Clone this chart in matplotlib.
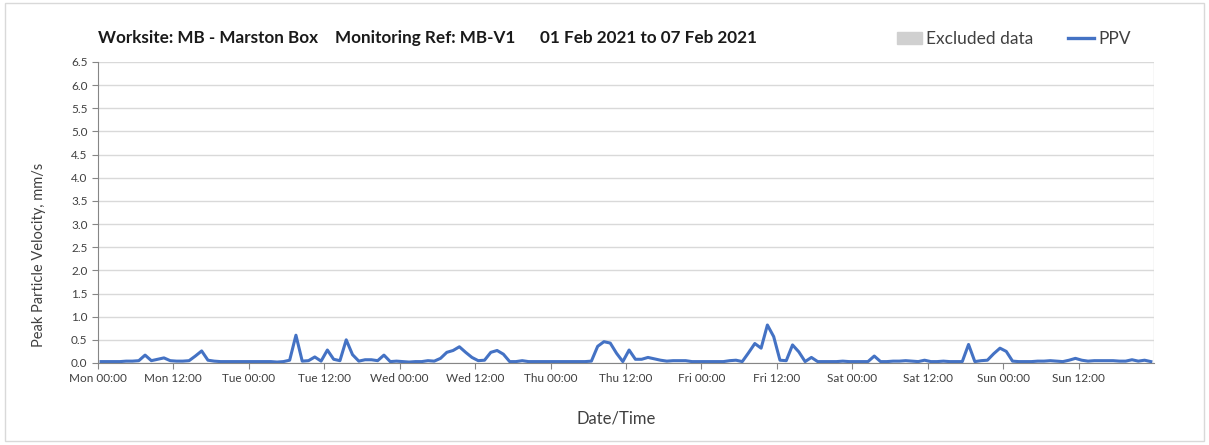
import numpy as np
import matplotlib
matplotlib.use("Agg")
import matplotlib.pyplot as plt
from matplotlib.patches import Rectangle
from matplotlib.lines import Line2D
from matplotlib.patches import Patch

plt.rcParams['font.family'] = ['Lato', 'DejaVu Sans']

# hourly PPV readings (mm/s), one list per day, sampled at hh:30
mon = [0.03, 0.03, 0.03, 0.03, 0.04, 0.04, 0.05, 0.17, 0.05, 0.08, 0.11, 0.05,
       0.04, 0.04, 0.05, 0.15, 0.26, 0.06, 0.04, 0.03, 0.03, 0.03, 0.03, 0.03]
tue = [0.03, 0.03, 0.03, 0.03, 0.02, 0.03, 0.06, 0.60, 0.04, 0.05, 0.13, 0.04,
       0.28, 0.08, 0.05, 0.50, 0.18, 0.04, 0.07, 0.07, 0.05, 0.17, 0.03, 0.04]
wed = [0.03, 0.02, 0.03, 0.03, 0.05, 0.04, 0.10, 0.23, 0.27, 0.35, 0.23, 0.12,
       0.05, 0.06, 0.23, 0.27, 0.19, 0.03, 0.03, 0.05, 0.03, 0.03, 0.03, 0.03]
thu = [0.03, 0.03, 0.03, 0.03, 0.03, 0.03, 0.04, 0.36, 0.46, 0.43, 0.21, 0.03,
       0.28, 0.08, 0.08, 0.12, 0.09, 0.06, 0.04, 0.05, 0.05, 0.05, 0.03, 0.03]
fri = [0.03, 0.03, 0.03, 0.03, 0.05, 0.06, 0.03, 0.22, 0.42, 0.32, 0.82, 0.57,
       0.06, 0.05, 0.39, 0.24, 0.03, 0.12, 0.03, 0.03, 0.03, 0.03, 0.04, 0.03]
sat = [0.03, 0.03, 0.03, 0.15, 0.03, 0.03, 0.04, 0.04, 0.05, 0.04, 0.03, 0.06,
       0.03, 0.03, 0.04, 0.03, 0.03, 0.03, 0.40, 0.03, 0.05, 0.06, 0.20, 0.32]
sun = [0.25, 0.04, 0.03, 0.03, 0.03, 0.04, 0.04, 0.05, 0.04, 0.03, 0.06, 0.10,
       0.06, 0.04, 0.05, 0.05, 0.05, 0.05, 0.04, 0.04, 0.07, 0.04, 0.06, 0.03]

days = ["Mon", "Tue", "Wed", "Thu", "Fri", "Sat", "Sun"]
tick_labels = [f"{d} {t}" for d in days for t in ("00:00", "12:00")]
title_parts = ["Worksite: MB - Marston Box", "Monitoring Ref: MB-V1",
               "01 Feb 2021 to 07 Feb 2021"]

ppv = np.array(mon + tue + wed + thu + fri + sat + sun)
hours = np.arange(len(ppv)) + 0.5

fig = plt.figure(figsize=(12.09, 4.45), dpi=100)
ax = fig.add_axes([0.081, 0.1843, 0.8735, 0.6764])

ax.plot(hours, ppv, color='#4472C4', lw=2.2, solid_joinstyle='round')

ax.set_xlim(0, 168)
ax.set_ylim(0, 6.5)
ax.set_xticks(np.arange(0, 168, 12))
ax.set_xticklabels(tick_labels, fontsize=8.5)
ax.set_xticks(np.arange(0, 169, 24), minor=True)
ax.set_yticks(np.arange(0, 6.51, 0.5))
ax.set_yticklabels([f"{v:.1f}" for v in np.arange(0, 6.51, 0.5)], fontsize=8.5)

ax.grid(True, axis='y', color='#d9d9d9', lw=1)
ax.grid(True, axis='x', which='minor', color='#d9d9d9', lw=1)
ax.grid(False, axis='x', which='major')
ax.set_axisbelow(True)
ax.tick_params(axis='both', which='major', length=4, color='#868686', colors='#404040')
ax.tick_params(axis='x', which='minor', length=0)
for s in ['top', 'right']:
    ax.spines[s].set_visible(False)
for s in ['left', 'bottom']:
    ax.spines[s].set_color('#868686')

ax.set_ylabel("Peak Particle Velocity, mm/s", fontsize=10.5, color='#404040')
ax.yaxis.set_label_coords(-0.0495, 0.36)
ax.set_xlabel("Date/Time", fontsize=12, color='#404040')
ax.xaxis.set_label_coords(0.491, -0.157)

# title pieces, spaced as in the source report
for xpix, part in zip([98, 335, 540], title_parts):
    fig.text(xpix / 1209, 0.915, part, fontsize=12.3, fontweight='bold',
             color='#1a1a1a', va='center')

handles = [Patch(color='#d0d0d0', label='Excluded data'),
           Line2D([0], [0], color='#4472C4', lw=2.4, label='PPV')]
fig.legend(handles=handles, loc='center right', bbox_to_anchor=(0.935, 0.912), ncol=2,
           frameon=False, fontsize=12.5, handlelength=1.45, handleheight=0.7,
           columnspacing=2.0, handletextpad=0.25, labelcolor='#404040',
           borderpad=0, borderaxespad=0)

fig.patches.append(Rectangle((0.004, 0.008), 0.992, 0.985, transform=fig.transFigure,
                             fill=False, edgecolor='#d9d9d9', lw=1))

fig.savefig("out.png", dpi=100)
